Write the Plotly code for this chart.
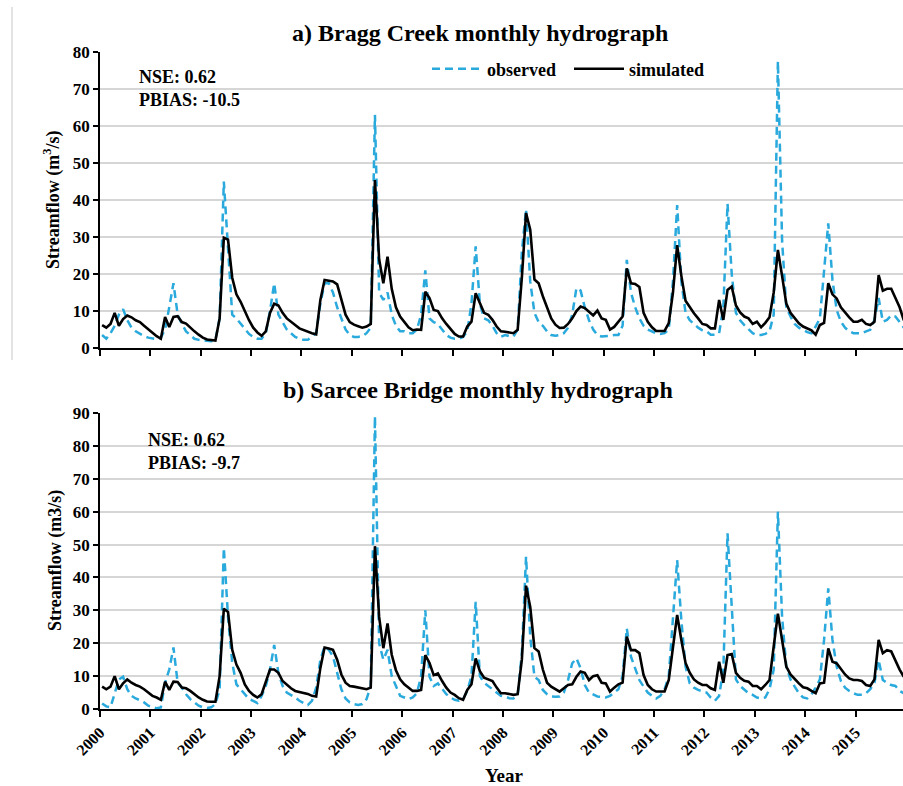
import plotly.graph_objects as go

years = list(range(2000, 2016))
year_labels = [str(y) for y in range(2000, 2016)]

# Bragg Creek (m3/s), monthly Jan..Dec for 2000-2015
obs_a = [
    3.5, 2.5, 4.0, 6.0, 9.0, 10.5, 7.5, 5.5, 4.5, 3.8, 3.2, 2.8,
    2.5, 2.4, 2.8, 5.0, 11.0, 17.5, 9.0, 6.5, 4.5, 3.5, 2.5, 2.2,
    2.0, 1.8, 1.8, 2.2, 8.0, 45.0, 28.0, 9.0, 8.0, 6.5, 5.0, 3.8,
    3.0, 2.5, 2.5, 4.0, 10.0, 17.5, 9.0, 7.0, 5.0, 4.0, 3.0, 2.5,
    2.2, 2.2, 3.0, 4.0, 12.0, 17.5, 17.5, 15.0, 11.0, 8.0, 5.0, 3.5,
    3.0, 3.0, 3.2, 4.0, 5.5, 63.0, 15.0, 13.0, 15.0, 9.0, 6.0, 4.5,
    4.5, 4.0, 4.0, 5.0, 9.0, 21.0, 8.0, 7.0, 6.5, 5.0, 3.5, 2.8,
    2.5, 2.5, 3.0, 4.5, 12.0, 27.5, 12.0, 8.0, 7.5, 6.0, 4.0, 3.0,
    3.5, 3.2, 3.1, 5.0, 26.0, 37.5, 18.0, 9.5, 7.0, 6.0, 4.5, 3.5,
    3.3, 3.5, 4.0, 5.5, 9.0, 16.2, 15.5, 11.0, 7.5, 5.0, 3.5, 3.1,
    3.1, 3.3, 3.5, 3.5, 6.0, 23.8, 15.0, 11.0, 8.0, 6.0, 5.0, 4.5,
    4.0, 3.8, 4.0, 5.0, 18.0, 38.6, 18.0, 9.5, 7.5, 6.5, 5.5, 4.8,
    4.5, 3.6, 3.6, 4.0, 11.0, 39.0, 20.0, 9.5, 7.5, 6.2, 5.0, 4.0,
    3.5, 3.5, 3.8, 4.5, 9.0, 77.5, 29.0, 11.0, 8.5, 6.5, 5.5, 4.9,
    4.3, 4.0, 5.8, 8.0, 20.0, 33.7, 18.4, 10.3, 7.1, 5.5, 4.5, 4.0,
    4.0, 4.0, 4.5, 4.9, 7.6, 13.5, 7.1, 7.6, 8.8, 8.5, 7.0, 5.5,
]
sim_a = [
    6.2, 5.5, 6.5, 9.5, 6.0, 7.8, 8.8, 8.3, 7.5, 7.0, 6.0, 5.0,
    4.2, 3.2, 2.5, 8.4, 5.7, 8.4, 8.6, 7.0, 6.6, 5.5, 4.5, 3.6,
    2.8, 2.3, 2.1, 2.0, 8.0, 29.8, 29.3, 19.0, 14.5, 12.5, 10.0, 7.5,
    5.5, 4.2, 3.3, 4.5, 9.5, 12.0, 11.5, 9.5, 8.0, 7.0, 6.2, 5.3,
    4.8, 4.5, 4.0, 3.7, 13.0, 18.4, 18.2, 18.0, 17.2, 13.0, 9.0, 7.0,
    6.3, 5.9, 5.5, 5.8, 6.5, 45.4, 24.0, 17.5, 24.7, 16.0, 11.0, 8.5,
    7.0, 5.6, 4.8, 5.0, 4.9, 15.2, 13.5, 10.3, 10.0, 8.0, 6.5, 5.0,
    3.8, 3.1, 3.1, 5.8, 7.1, 14.8, 12.0, 9.5, 9.0, 7.6, 5.8, 4.5,
    4.4, 4.1, 4.0, 4.9, 19.0, 36.5, 32.0, 18.5, 17.5, 14.0, 11.0, 8.0,
    6.3, 5.4, 5.5, 6.5, 8.0, 10.0, 11.2, 10.8, 9.8, 8.8, 10.1, 8.0,
    7.6, 5.0, 5.7, 7.2, 8.5, 21.5, 17.5, 17.3, 16.5, 9.5, 7.1, 5.6,
    4.6, 4.6, 4.6, 6.7, 15.0, 27.8, 19.5, 12.8, 11.0, 9.4, 8.0, 6.5,
    6.2, 5.3, 5.3, 13.0, 7.6, 15.7, 16.6, 11.5, 9.6, 8.5, 8.0, 6.5,
    7.1, 5.6, 6.8, 8.3, 15.0, 26.5, 19.5, 12.0, 9.5, 8.0, 6.7, 5.8,
    5.3, 4.8, 3.6, 6.2, 6.8, 17.5, 14.5, 13.4, 11.0, 9.5, 8.3, 7.1,
    7.1, 7.6, 6.5, 6.2, 7.1, 19.7, 15.5, 16.0, 16.0, 13.5, 11.0, 7.5,
]

# Sarcee Bridge (m3/s)
obs_b = [
    1.7, 0.8, 0.5, 4.5, 9.0, 9.8, 6.0, 4.0, 3.2, 2.7, 2.0, 1.0,
    0.5, 0.2, 0.5, 8.0, 12.0, 18.7, 8.0, 6.5, 4.5, 3.0, 2.0, 1.0,
    0.5, 0.3, 0.5, 1.5, 6.0, 49.0, 28.0, 14.0, 7.5, 6.0, 4.5, 3.0,
    2.5, 1.8, 4.0, 7.0, 12.0, 19.5, 11.0, 7.0, 5.0, 4.3, 3.5, 2.5,
    1.8, 1.2, 2.5, 6.5, 15.0, 19.0, 18.0, 16.0, 11.0, 6.0, 3.2, 2.0,
    1.5, 1.2, 1.5, 3.0, 7.0, 89.0, 20.0, 15.0, 18.0, 10.0, 7.0, 4.0,
    3.5, 3.0, 3.5, 4.8, 10.0, 30.0, 9.8, 7.0, 7.8, 6.0, 4.5, 3.5,
    2.8, 2.5, 3.0, 5.5, 10.0, 32.6, 10.0, 8.0, 7.0, 6.0, 5.0, 4.0,
    3.8, 3.3, 3.2, 4.0, 17.0, 46.3, 22.0, 9.8, 8.8, 5.8, 4.5, 3.8,
    3.7, 3.8, 5.0, 8.8, 13.9, 15.4, 12.4, 7.3, 5.0, 4.3, 3.8, 3.7,
    3.5, 4.0, 5.0, 6.0, 10.0, 24.5, 15.9, 12.0, 8.8, 6.8, 5.0, 4.0,
    3.2, 4.0, 6.0, 10.0, 27.0, 45.3, 27.0, 12.9, 7.8, 6.5, 5.8, 5.3,
    5.0, 3.5, 2.5, 4.0, 12.0, 53.4, 30.0, 9.0, 7.0, 5.8, 4.8, 4.3,
    3.5, 3.2, 3.5, 6.0, 12.0, 60.0, 28.0, 12.9, 9.0, 6.8, 4.8, 3.5,
    3.2, 4.5, 6.5, 9.0, 21.0, 36.7, 21.0, 12.9, 8.5, 6.5, 5.5, 4.8,
    4.3, 4.3, 4.8, 6.0, 8.0, 14.9, 8.8, 8.0, 7.3, 7.0, 5.5, 4.8,
]
sim_b = [
    6.8, 6.0, 6.8, 10.0, 6.0, 7.8, 9.0, 8.0, 7.3, 6.8, 6.0, 5.0,
    4.0, 3.5, 2.8, 8.3, 5.8, 8.3, 8.2, 6.5, 6.3, 5.5, 4.5, 3.5,
    2.8, 2.3, 2.2, 2.2, 10.0, 30.5, 29.5, 18.0, 13.5, 11.0, 7.5, 5.5,
    4.3, 3.5, 4.5, 8.0, 12.0, 12.0, 11.0, 8.5, 7.3, 6.3, 5.5, 5.2,
    5.0, 4.6, 4.0, 3.8, 12.5, 18.7, 18.4, 18.0, 15.0, 10.5, 8.0, 7.0,
    6.8, 6.6, 6.3, 6.0, 6.5, 49.5, 28.0, 18.5, 26.0, 16.5, 11.8, 9.0,
    7.5, 6.5, 5.5, 5.5, 5.8, 16.4, 14.0, 10.3, 10.8, 8.5, 6.5, 5.0,
    4.3, 3.3, 2.8, 5.8, 7.5, 15.4, 11.5, 9.5, 9.0, 8.5, 6.5, 4.8,
    4.8, 4.5, 4.3, 4.5, 15.0, 37.5, 31.0, 18.5, 17.5, 12.0, 8.0, 6.8,
    6.0, 5.3, 6.3, 7.3, 7.5, 9.8, 11.4, 11.0, 8.8, 10.0, 10.3, 8.0,
    7.8, 5.3, 6.5, 7.5, 8.0, 22.0, 17.9, 17.9, 17.0, 10.3, 7.3, 6.0,
    5.3, 5.3, 5.3, 8.8, 18.0, 28.6, 21.0, 14.0, 11.0, 9.0, 8.0, 7.3,
    7.3, 6.3, 5.8, 14.4, 8.0, 16.4, 16.7, 11.0, 9.5, 8.6, 8.3, 7.0,
    7.0, 6.0, 7.3, 8.8, 19.0, 29.0, 21.0, 12.9, 10.5, 9.0, 7.8, 6.6,
    6.3, 5.5, 4.8, 7.8, 8.0, 18.4, 14.4, 13.9, 12.0, 10.5, 9.3, 8.8,
    8.8, 8.5, 7.3, 7.0, 9.0, 21.0, 17.0, 17.9, 17.5, 14.5, 12.0, 9.8,
]

# x positions: centre of each month on a decimal-year axis
x_months = [2000 + (i + 0.5) / 12 for i in range(len(obs_a))]

W, H = 903, 786
SERIF = "Liberation Serif, Times New Roman, serif"
OBS_COLOR = "#29a9dc"


def px_x(p):
    return p / W


def px_y(p):
    return 1 - p / H


obs_line = dict(color=OBS_COLOR, width=2.5, dash="8px,5px")
sim_line = dict(color="black", width=2.6)

fig = go.Figure()
fig.add_trace(go.Scatter(x=x_months, y=obs_a, mode="lines", name="observed",
                         line=obs_line, xaxis="x", yaxis="y", legend="legend"))
fig.add_trace(go.Scatter(x=x_months, y=sim_a, mode="lines", name="simulated",
                         line=sim_line, xaxis="x", yaxis="y", legend="legend2"))
fig.add_trace(go.Scatter(x=x_months, y=obs_b, mode="lines", name="observed",
                         line=obs_line, xaxis="x2", yaxis="y2", showlegend=False))
fig.add_trace(go.Scatter(x=x_months, y=sim_b, mode="lines", name="simulated",
                         line=sim_line, xaxis="x2", yaxis="y2", showlegend=False))

tickfont = dict(family=SERIF, size=17, color="black", weight="bold")
x_common = dict(range=[2000, 2000 + (903 - 100) / 50.37], domain=[px_x(100), 1],
                tickmode="array", tickvals=years, ticktext=year_labels,
                showline=True, automargin=False,
                linecolor="black", linewidth=2, ticks="outside", ticklen=6,
                tickcolor="black", tickwidth=1.5, showgrid=False, zeroline=False)
y_common = dict(showline=True, automargin=False, linecolor="black", linewidth=1.5,
                ticks="outside", ticklen=5, tickcolor="black", tickwidth=1.5,
                showgrid=True, gridcolor="#d6d6d6", gridwidth=1.5, zeroline=False,
                dtick=10, tickfont=tickfont)

legend_font = dict(family=SERIF, size=18, color="black", weight="bold")
legend_common = dict(orientation="h", y=px_y(69), xanchor="left", yanchor="middle",
                     font=legend_font, bgcolor="rgba(0,0,0,0)", itemwidth=50)

fig.update_layout(
    width=W, height=H,
    template="none",
    margin=dict(l=0, r=0, t=0, b=0, pad=0),
    paper_bgcolor="white", plot_bgcolor="white",
    showlegend=True,
    legend=dict(**legend_common, x=px_x(427)),
    legend2=dict(**legend_common, x=px_x(569)),
    xaxis=dict(**x_common, anchor="y", showticklabels=False),
    xaxis2=dict(**x_common, anchor="y2", tickangle=-45,
                tickfont=dict(family=SERIF, size=16, color="black", weight="bold")),
    yaxis=dict(**y_common, range=[0, 80], domain=[px_y(348), px_y(52)], anchor="x"),
    yaxis2=dict(**y_common, range=[0, 90], domain=[px_y(709), px_y(413)], anchor="x2"),
)

ann_font = dict(family=SERIF, size=18, color="black", weight="bold")
title_font = dict(family=SERIF, size=24, color="black", weight="bold")
axis_title_font = dict(family=SERIF, size=18, color="black", weight="bold")


def text(t, x, y, font, **kw):
    fig.add_annotation(text=t, x=px_x(x), y=px_y(y), xref="paper", yref="paper",
                       showarrow=False, font=font, **kw)


text("a) Bragg Creek monthly hydrograph", 480, 33, title_font,
     xanchor="center", yanchor="middle")
text("b) Sarcee Bridge monthly hydrograph", 478, 390, title_font,
     xanchor="center", yanchor="middle")
text("NSE: 0.62<br>PBIAS: -10.5", 137, 88, ann_font, align="left",
     xanchor="left", yanchor="middle")
text("NSE: 0.62<br>PBIAS: -9.7", 146, 451, ann_font, align="left",
     xanchor="left", yanchor="middle")
text("Streamflow (m<sup>3</sup>/s)", 52, 200, axis_title_font, textangle=-90,
     xanchor="center", yanchor="middle")
text("Streamflow (m3/s)", 55, 561, axis_title_font, textangle=-90,
     xanchor="center", yanchor="middle")
text("Year", 505, 775, dict(family=SERIF, size=19, color="black", weight="bold"),
     xanchor="center", yanchor="middle")

# thin border remnant at the left of the upper panel
fig.add_shape(type="line", xref="paper", yref="paper", x0=px_x(12), x1=px_x(12),
              y0=px_y(7), y1=px_y(360), line=dict(color="#c8c8c8", width=1))

fig.write_html("out.html")
